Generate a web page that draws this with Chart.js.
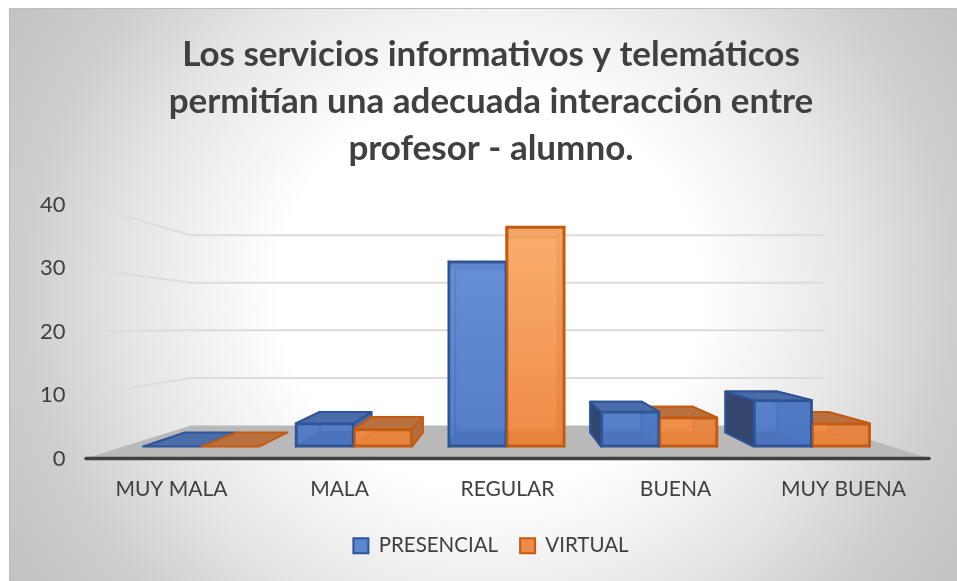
<!DOCTYPE html>
<html><head><meta charset="utf-8">
<style>html,body{margin:0;padding:0;background:#fff}canvas{display:block}</style>
<script src="https://cdn.jsdelivr.net/npm/chart.js@4/dist/chart.umd.min.js"></script>
</head><body>
<div style="position:relative;width:957px;height:581px"><canvas id="c"></canvas></div>
<script>
const titleLines = ["Los servicios informativos y telemáticos","permitían una adecuada interacción entre","profesor - alumno."];
const categories = ["MUY MALA","MALA","REGULAR","BUENA","MUY BUENA"];
const presencial = [0,4,32,6,8];
const virtual = [0,3,38,5,4];
const yTicks = [0,10,20,30,40];
const FONT = "Lato, Carlito, sans-serif";

function toPoints(arr){ return arr.map((v,i)=>({x:i,y:v})); }

const STYLE = {
  blue:{top:"#6a93dc",bottom:"#4e79c4",edge:"#2f5597",roof:"#4a6ca9",left:"#34466d",right:"#4a6ab0",back:"rgba(85,124,196,.85)",base:"#3a5a98",legend:"#5b86d0"},
  orange:{top:"#ffb36f",bottom:"#ee8841",edge:"#c55a11",roof:"#b8703f",left:"#a9602f",right:"#b56c3d",back:"rgba(232,135,70,.85)",base:"#c06c30",legend:"#ef8a4a"}
};
function frontFill(st){
  return (ctx)=>{
    const ch=ctx.chart, sc=ch.scales.yBars;
    if(!ch.chartArea||!sc) return st.bottom;
    const g=ch.ctx.createLinearGradient(0,sc.getPixelForValue(38),0,sc.getPixelForValue(0));
    const hex=(h,a)=>{const n=parseInt(h.slice(1),16);return `rgba(${n>>16},${(n>>8)&255},${n&255},${a})`;};
    g.addColorStop(0,hex(st.top,.82)); g.addColorStop(1,hex(st.bottom,.82));
    return g;
  };
}

const scene = {
  id:"scene",
  beforeDraw(chart){
    const c=chart.ctx;
    c.save();
    const X=9,Y=8,W=948,H=573;
    c.beginPath();c.rect(X,Y,W,H);c.clip();
    c.translate(490,290);c.scale(1,.95);
    const R=620;
    const g=c.createRadialGradient(0,0,0,0,0,R);
    g.addColorStop(0,"#ffffff");g.addColorStop(.34,"#ffffff");g.addColorStop(.56,"#e8e8e8");g.addColorStop(.75,"#cecece");g.addColorStop(1,"#bcbcbc");
    c.fillStyle=g;c.fillRect(-700,-700,1400,1400);
    c.restore();
    c.save();c.strokeStyle="#bdbdbd";c.lineWidth=1;c.beginPath();c.moveTo(9.5,581);c.lineTo(9.5,8.5);c.lineTo(957,8.5);c.stroke();c.restore();
  },
  beforeDatasetsDraw(chart){
    const c=chart.ctx,a=chart.chartArea,ys=chart.scales.y;
    const VX=507,VY=326.7,K=.749;
    const fx=x=>VX+(x-VX)*K, fy=y=>VY+(y-VY)*K;
    const L=a.left-2.5,Rt=a.right+2.5,B=ys.getPixelForValue(0);
    c.save();
    c.fillStyle="#b9b9b9";
    c.beginPath();c.moveTo(L,B);c.lineTo(fx(L),fy(B));c.lineTo(fx(Rt),fy(B));c.lineTo(Rt,B);c.closePath();c.fill();
    c.strokeStyle="#dcdcdc";c.lineWidth=2;
    yTicks.slice(1).forEach(t=>{
      const y=ys.getPixelForValue(t);
      c.beginPath();c.moveTo(L,y);c.lineTo(fx(L),fy(y));c.lineTo(fx(Rt),fy(y));c.stroke();
    });
    c.strokeStyle="#404040";c.lineWidth=3.5;c.lineCap="round";
    c.beginPath();c.moveTo(L+1,B);c.lineTo(Rt-1,B);c.stroke();
    const VX2=506.5,VY2=324,K2=.885;
    const bx=x=>VX2+(x-VX2)*K2, by=y=>VY2+(y-VY2)*K2;
    const poly=(pts,fill,st)=>{
      c.beginPath();pts.forEach((p,i)=>i?c.lineTo(p[0],p[1]):c.moveTo(p[0],p[1]));c.closePath();
      c.fillStyle=fill;c.fill();
      c.strokeStyle=st.edge;c.lineWidth=2;c.lineJoin="round";c.stroke();
    };
    const box=(el,st)=>{
      const l=el.x-el.width/2,r=el.x+el.width/2,t=el.y,b=el.base;
      const bl=bx(l),br=bx(r),bt=by(t),bb=by(b);
      if(Math.abs(b-t)>.5){
        poly([[bl,bt],[br,bt],[br,bb],[bl,bb]],st.back,st);
        poly([[l,b],[r,b],[br,bb],[bl,bb]],st.base,st);
        poly([[l,t],[bl,bt],[bl,bb],[l,b]],bl<l?st.left:st.back,st);
        poly([[r,t],[br,bt],[br,bb],[r,b]],st.right,st);
      }
      poly([[l,t],[r,t],[br,bt],[bl,bt]],st.roof,st);
    };
    const m0=chart.getDatasetMeta(0).data,m1=chart.getDatasetMeta(1).data;
    categories.forEach((_,i)=>{
      if(i<=2){box(m0[i],STYLE.blue);box(m1[i],STYLE.orange);}
      else{box(m1[i],STYLE.orange);box(m0[i],STYLE.blue);}
    });
    c.restore();
  }
};

new Chart(document.getElementById("c"),{
  type:"bar",
  plugins:[scene],
  data:{
    labels:categories,
    datasets:[
      {label:"PRESENCIAL",data:toPoints(presencial),xAxisID:"xBars",yAxisID:"yBars",
       backgroundColor:frontFill(STYLE.blue),borderColor:STYLE.blue.edge,borderWidth:2,borderSkipped:false,
       categoryPercentage:.76,barPercentage:1},
      {label:"VIRTUAL",data:toPoints(virtual),xAxisID:"xBars",yAxisID:"yBars",
       backgroundColor:frontFill(STYLE.orange),borderColor:STYLE.orange.edge,borderWidth:2,borderSkipped:false,
       categoryPercentage:.76,barPercentage:1}
    ]
  },
  options:{
    responsive:true,maintainAspectRatio:false,animation:false,
    layout:{autoPadding:false,padding:{left:25,right:0,top:20,bottom:15}},
    plugins:{
      tooltip:{enabled:false},
      title:{display:true,text:titleLines,color:"#404040",
        font:{family:FONT,size:35,weight:"bold",lineHeight:1.34},padding:{top:11.5,bottom:32.5}},
      legend:{position:"bottom",
        labels:{font:{family:FONT,size:20.5},color:"#404040",boxWidth:15,boxHeight:15,padding:22,
          generateLabels(ch){
            return ch.data.datasets.map((d,i)=>{
              const st=i?STYLE.orange:STYLE.blue;
              return {text:d.label,fillStyle:st.legend,strokeStyle:st.edge,lineWidth:2,datasetIndex:i,fontColor:"#404040"};
            });
          }}}
    },
    scales:{
      x:{type:"category",position:"bottom",offset:true,grid:{display:false,drawTicks:false},border:{display:false},
        ticks:{color:"#404040",font:{family:FONT,size:21},padding:18.5,maxRotation:0,autoSkip:false},
        afterFit(s){s.height=55;}},
      y:{type:"linear",position:"left",min:0,max:40,grid:{display:false,drawTicks:false},border:{display:false},
        afterBuildTicks(s){s.ticks=yTicks.map(v=>({value:v}));},
        ticks:{color:"#404040",font:{family:FONT,size:22},padding:22},
        afterFit(s){s.width=62.5;}},
      xBars:{type:"linear",axis:"x",display:false,offset:false,min:-0.744,max:4.757,grid:{offset:false},
        afterBuildTicks(s){s.ticks=categories.map((_,i)=>({value:i}));}},
      yBars:{type:"linear",axis:"y",position:"right",min:-2.0645,max:41.8,
        grid:{display:false,drawTicks:false},border:{display:false},ticks:{display:false},
        afterFit(s){s.width=29.5;}}
    }
  }
});
</script>
</body></html>
